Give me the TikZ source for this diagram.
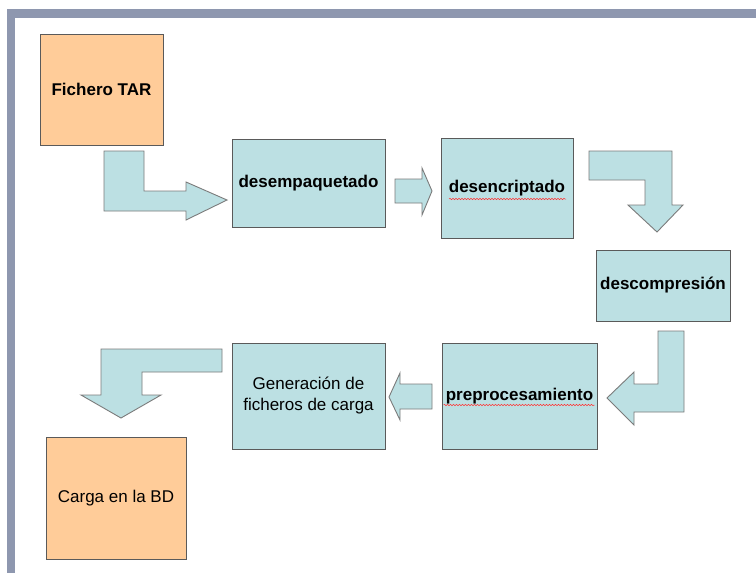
\documentclass[tikz,border=0pt]{standalone}
\usepackage{fontspec}
\setmainfont{Liberation Sans}
\usepackage{tikz}
\usetikzlibrary{positioning, calc}
\usetikzlibrary{decorations.pathmorphing}

\definecolor{boxcyan}{RGB}{188,224,227}
\definecolor{boxorange}{RGB}{255,204,153}
\definecolor{framegray}{RGB}{142,151,175}
\definecolor{edgegray}{RGB}{90,90,90}

\begin{document}
\begin{tikzpicture}[x=1pt,y=-1pt,line join=miter]

	\tikzstyle{stagebox}=[draw=edgegray,fill=boxcyan,line width=0.9pt,inner sep=0pt,align=center,font=\fontsize{17}{21}\selectfont]
	\tikzstyle{endbox}=[stagebox,fill=boxorange]
	\tikzstyle{blockarrow}=[draw=edgegray!80,fill=boxcyan,line width=0.9pt]
	\tikzstyle{spellmark}=[draw=red!80,line width=0.5pt,decorate,decoration={snake,amplitude=0.7pt,segment length=3pt}]

	% frame
	\useasboundingbox (0,0) rectangle (756,573);
	\fill[framegray] (7,9) rectangle (756,573);
	\fill[white] (15,18) rectangle (756,573);

	% stages
	\node[endbox,minimum width=123pt,minimum height=111pt]	(tar)		at (101.5,89.5)	{\bfseries Fichero TAR};
	\node[stagebox,minimum width=153pt,minimum height=88pt]	(desemp)	at (308.5,183)	{\bfseries desempaquetado};
	\node[stagebox,minimum width=132pt,minimum height=100pt]	(desenc)	at (507,188)	{\bfseries desencriptado};
	\node[stagebox,minimum width=134pt,minimum height=71pt]	(descomp)	at (663,285.5)	{\bfseries descompresión};
	\node[stagebox,minimum width=155pt,minimum height=106pt]	(preproc)	at (519.5,396)	{\bfseries preprocesamiento};
	\node[stagebox,minimum width=153pt,minimum height=106pt]	(genera)	at (308.5,396)	{Generación de\\ficheros de carga};
	\node[endbox,minimum width=140pt,minimum height=122pt]	(carga)		at (116,498)	{Carga en la BD};

	% spell check marks
	\draw[spellmark] ($(desenc.center)+(-58,11)$) -- ($(desenc.center)+(59,11)$);
	\draw[spellmark] ($(preproc.center)+(-76,9)$) -- ($(preproc.center)+(75,9)$);

	% arrows
	\draw[blockarrow] (104,151) -- (144,151) -- (144,191) -- (186,191) -- (186,182) -- (227,200) -- (186,220) -- (186,211) -- (104,211) -- cycle;
	\draw[blockarrow] (395,179) -- (422,179) -- (422,168) -- (432,191) -- (422,215) -- (422,203) -- (395,203) -- cycle;
	\draw[blockarrow] (589,151) -- (672,151) -- (672,205) -- (683,205) -- (657,232) -- (628,205) -- (645,205) -- (645,180) -- (589,180) -- cycle;
	\draw[blockarrow] (658,331) -- (684,331) -- (684,412) -- (634,412) -- (634,425) -- (607,398) -- (634,372) -- (634,384) -- (658,384) -- cycle;
	\draw[blockarrow] (432,384) -- (432,409) -- (400,409) -- (400,420) -- (389,397) -- (400,373) -- (400,384) -- cycle;
	\draw[blockarrow] (222,349) -- (222,372) -- (142,372) -- (142,395) -- (161,395) -- (121,418) -- (81,395) -- (101,395) -- (101,349) -- cycle;
\end{tikzpicture}
\end{document}
